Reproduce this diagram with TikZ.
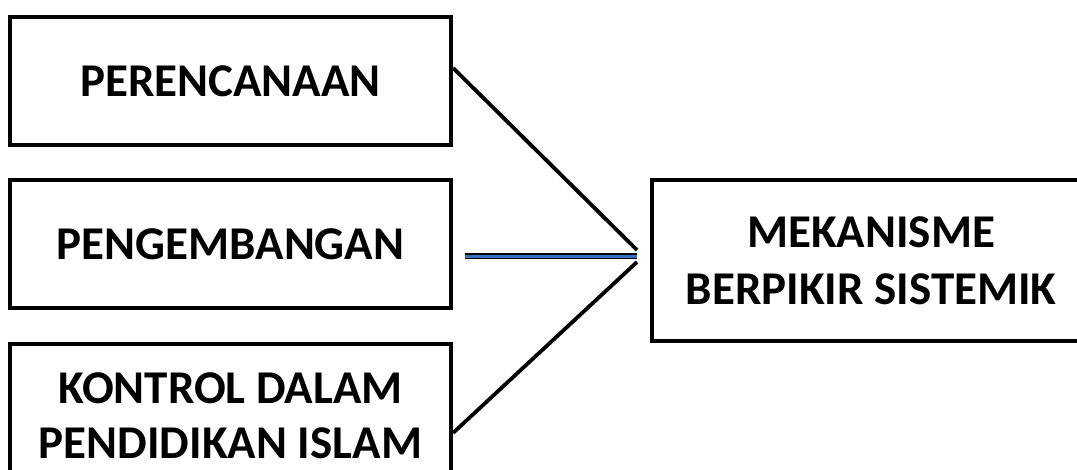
\documentclass[tikz,border=0pt]{standalone}
\usepackage{fontspec}
\setmainfont{Carlito}
\usepackage{xcolor}
\usepackage{tikz}
\usetikzlibrary{positioning, calc}
\definecolor{linkblue}{HTML}{3A6FC0}
\tikzset{
  box/.style={rectangle, draw=black, line width=4.2pt, fill=white,
              minimum width=441pt, minimum height=128pt, align=center,
              font=\fontsize{47}{57}\selectfont\bfseries, inner sep=0pt},
  link/.style={draw=black, line width=3.8pt},
  dlink/.style={draw=black, line width=1.6pt, double=linkblue,
                double distance=2.8pt},
}
\begin{document}
\begin{tikzpicture}[x=1pt, y=1pt]
  \useasboundingbox (0,0) rectangle (1077,-470);
  \node[box] (plan) at (230.5,-81) {PERENCANAAN};
  \node[box, below=31pt of plan] (dev) {PENGEMBANGAN};
  \node[box, below=32pt of dev, minimum height=142pt,
        font=\fontsize{47}{55}\selectfont\bfseries] (ctrl)
       {KONTROL DALAM\\PENDIDIKAN ISLAM};
  \node[box, minimum width=438pt, minimum height=161pt, anchor=north west]
       (sys) at ([xshift=197pt]dev.north east)
       {MEKANISME\\BERPIKIR SISTEMIK};
  \coordinate (tipup) at (637,-250);
  \coordinate (tiplow) at (637,-262);
  \coordinate (devout) at ([xshift=12pt,yshift=-12pt]dev.east);
  \draw[link] ([yshift=13pt]plan.east) -- (tipup);
  \draw[dlink] (devout) -- (devout -| tipup);
  \draw[link] ([yshift=-17.5pt]ctrl.east) -- (tiplow);
\end{tikzpicture}
\end{document}
